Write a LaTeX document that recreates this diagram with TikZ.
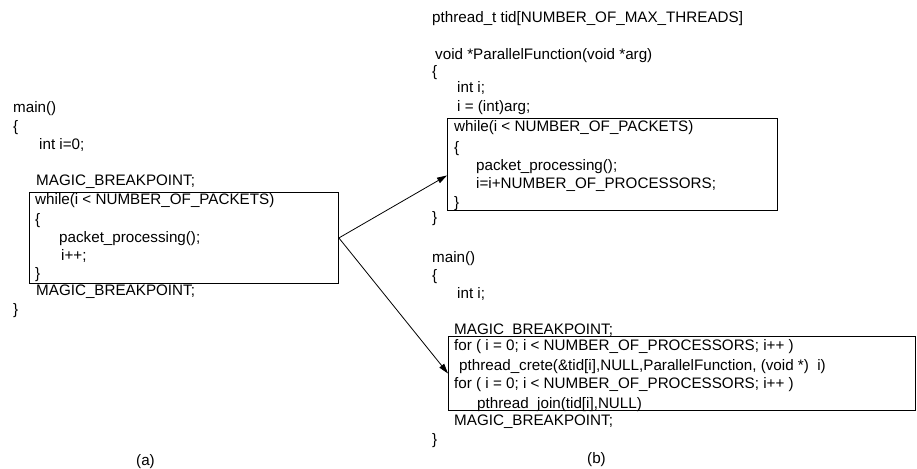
\documentclass[tikz,border=0pt]{standalone}
\usepackage{fontspec}
\setmainfont{Liberation Sans}
\usetikzlibrary{arrows.meta, positioning, calc}

\begin{document}
\begin{tikzpicture}[
    x=1pt, y=-1pt,
    code/.style={anchor=base west, inner sep=0pt, font=\fontsize{15.2}{17}\selectfont},
    codebox/.style={draw, line width=0.9pt, anchor=north west, inner sep=0pt},
    flow/.style={-{Triangle[length=10pt, width=6pt]}, line width=0.8pt}
]
    \useasboundingbox (0,0) rectangle (917,468);

    % (a) sequential version
    \node[code] (a1) at (13,113) {main()};
    \node[code] (a2) at (13,131) {\{};
    \node[code] (a3) at (39,149) {int i=0;};
    \node[code] (a4) at (36,185) {MAGIC\_BREAKPOINT;};
    \node[codebox, minimum width=309, minimum height=91] (loopa) at (29,192) {};
    \node[code] (a5) at (35,204) {while(i < NUMBER\_OF\_PACKETS)};
    \node[code] (a6) at (35,224) {\{};
    \node[code] (a7) at (59,242) {packet\_processing();};
    \node[code] (a8) at (61,260) {i++;};
    \node[code] (a9) at (35,278) {\}};
    \node[code] (a10) at (36,295) {MAGIC\_BREAKPOINT;};
    \node[code] (a11) at (13,314) {\}};
    \node[code] (capa) at (136,465) {(a)};

    % (b) parallel version, thread function
    \node[code] (b1) at (432,23) {pthread\_t tid[NUMBER\_OF\_MAX\_THREADS]};
    \node[code] (b2) at (435,60) {void *ParallelFunction(void *arg)};
    \node[code] (b3) at (432,77) {\{};
    \node[code] (b4) at (457,93) {int i;};
    \node[code] (b5) at (457,111) {i = (int)arg;};
    \node[codebox, minimum width=330, minimum height=92] (loopb) at (447,118) {};
    \node[code] (b6) at (454,131) {while(i < NUMBER\_OF\_PACKETS)};
    \node[code] (b7) at (454,152) {\{};
    \node[code] (b8) at (476,170) {packet\_processing();};
    \node[code] (b9) at (476,188) {i=i+NUMBER\_OF\_PROCESSORS;};
    \node[code] (b10) at (454,207) {\}};
    \node[code] (b11) at (432,222) {\}};

    % (b) parallel version, main
    \node[code] (c1) at (432,262) {main()};
    \node[code] (c2) at (432,280) {\{};
    \node[code] (c3) at (457,298) {int i;};
    \node[code] (c4) at (454,334) {MAGIC\_BREAKPOINT;};
    \node[codebox, minimum width=467, minimum height=74] (loopc) at (448,336) {};
    \node[code] (c5) at (454,350) {for ( i = 0; i < NUMBER\_OF\_PROCESSORS; i++ )};
    \node[code] (c6) at (459,370) {pthread\_crete(\&tid[i],NULL,ParallelFunction, (void *)~~i)};
    \node[code] (c7) at (454,388) {for ( i = 0; i < NUMBER\_OF\_PROCESSORS; i++ )};
    \node[code] (c8) at (477,408) {pthread\_join(tid[i],NULL)};
    \node[code] (c9) at (454,425) {MAGIC\_BREAKPOINT;};
    \node[code] (c10) at (432,444) {\}};
    \node[code] (capb) at (587,463) {(b)};

    \draw[flow] (loopa.east) -- ($(loopb.west)+(0,11)$);
    \draw[flow] (loopa.east) -- (loopc.west);
\end{tikzpicture}
\end{document}
